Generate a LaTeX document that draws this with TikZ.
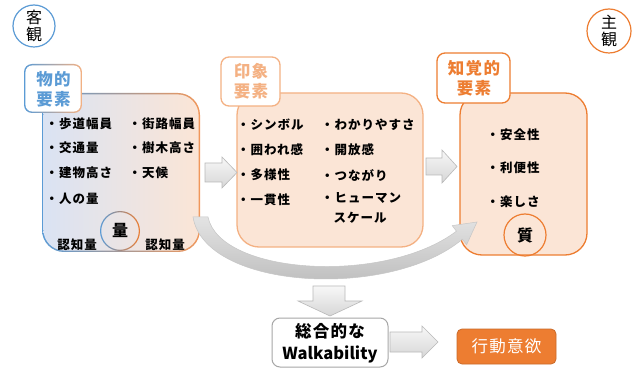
\documentclass[tikz,border=0pt]{standalone}
\usepackage{fontspec}
\setmainfont{Noto Sans CJK JP}
\newfontfamily\spjp{Noto Sans CJK JP}[LetterSpace=8]
\definecolor{cblue}{HTML}{5B9BD5}
\definecolor{corange}{HTML}{ED7D31}
\definecolor{cdorange}{HTML}{C96A2A}
\definecolor{clorange}{HTML}{F4B183}
\definecolor{cpeach}{HTML}{FBE5D6}
\definecolor{clblue}{HTML}{DAE3F3}
\definecolor{cgrayb}{HTML}{A6A6A6}
\tikzset{
  itm/.style={anchor=west, inner sep=0pt, font=\spjp\bfseries\fontsize{12.5}{20}\selectfont, align=left},
  lab/.style={inner sep=0pt, align=center, font=\spjp\bfseries\fontsize{16.5}{20}\selectfont},
  labbox/.style={rounded corners=8pt, fill=white, line width=1.3pt},
  bigbox/.style={rounded corners=22pt, fill=cpeach, line width=1.3pt},
  tag/.style={circle, inner sep=0pt, align=center, line width=1.2pt, font=\fontsize{16}{17}\selectfont},
  blockarrow/.style={top color=gray!6, bottom color=gray!32, draw=gray!55, line width=0.6pt},
}
\begin{document}
\begin{tikzpicture}[x=1pt,y=-1pt]
\useasboundingbox (0,0) rectangle (637,371);
\fill[white] (0,0) rectangle (637,371);

% corner tags
\node[tag, draw=cblue, minimum size=42pt] (obj) at (34,26) {客\\観};
\node[tag, draw=corange, minimum size=44pt] (subj) at (609,31) {主\\観};

% box 1 (gradient)
\shade[left color=cblue, right color=corange!80, rounded corners=22pt] (42,93) rectangle (200,252);
\shade[left color=clblue, right color=cpeach, rounded corners=21pt] (43.4,94.4) rectangle (198.6,250.6);
\coordinate (box1) at (121,172);
% label 1
\shade[left color=cblue, right color=clorange, rounded corners=8pt] (24,64) rectangle (82,113);
\fill[white, rounded corners=7pt] (25.4,65.4) rectangle (80.6,111.6);
\node[lab, text=cblue] (lab1) at (53.5,89) {物的\\要素};

% box 2
\node[bigbox, draw=clorange, minimum width=186pt, minimum height=154pt] (box2) at (330,170) {};
\node[labbox, draw=clorange, minimum width=59pt, minimum height=49pt] (lab2box) at (250.5,81.5) {};
\node[lab, text=clorange] (lab2) at (251,81.5) {印象\\要素};

% box 3
\node[bigbox, draw=corange, minimum width=127pt, minimum height=162pt] (box3) at (523.5,174) {};
\node[labbox, draw=corange, minimum width=73pt, minimum height=50pt] (lab3box) at (473.5,78) {};
\node[lab, text=corange] (lab3) at (474,78) {知覚的\\要素};

% items box 1
\node[itm] (a1) at (45.5,124) {・歩道幅員};
\node[itm] (a2) at (45.5,148) {・交通量};
\node[itm] (a3) at (45.5,173) {・建物高さ};
\node[itm] (a4) at (45.5,199) {・人の量};
\node[itm] (b1) at (128.5,124) {・街路幅員};
\node[itm] (b2) at (128.5,148) {・樹木高さ};
\node[itm] (b3) at (128.5,173) {・天候};
\shade[even odd rule, left color=cblue, right color=corange] (120,231) circle (20) (120,231) circle (18.8);
\node[inner sep=0pt, font=\bfseries\fontsize{16}{17}\selectfont] (ryo) at (120,230) {量};
\node[inner sep=0pt, font=\spjp\bfseries\fontsize{12.5}{15}\selectfont] (n1) at (77,245) {認知量};
\node[inner sep=0pt, font=\spjp\bfseries\fontsize{12.5}{15}\selectfont] (n2) at (165,245) {認知量};

% items box 2
\node[itm] (c1) at (237,125) {・シンボル};
\node[itm] (c2) at (237,150) {・囲われ感};
\node[itm] (c3) at (237,175) {・多様性};
\node[itm] (c4) at (237,200) {・一貫性};
\node[itm] (d1) at (321,125) {・わかりやすさ};
\node[itm] (d2) at (321,150) {・開放感};
\node[itm] (d3) at (321,175) {・つながり};
\node[itm, anchor=north west] (d4) at (321,192) {・ヒューマン\\\hphantom{・}スケール};

% items box 3
\node[itm] (e1) at (486.5,135) {・安全性};
\node[itm] (e2) at (486.5,168) {・利便性};
\node[itm] (e3) at (486.5,202) {・楽しさ};
\node[circle, draw=corange, line width=1.2pt, minimum size=42pt, inner sep=0pt, font=\bfseries\fontsize{16}{17}\selectfont] (shitsu) at (525,235) {質};

% block arrows
\draw[blockarrow] (205,163) -- (222,163) -- (222,157) -- (237,172.5) -- (222,188) -- (222,182) -- (205,182) -- cycle;
\draw[blockarrow] (426,158) -- (442,158) -- (442,150) -- (457,166.5) -- (442,183) -- (442,175) -- (426,175) -- cycle;

% curved arrow
\shade[top color=gray!22, bottom color=gray!58, draw=gray!45, line width=0.5pt]
  (193,217) .. controls (205,290) and (390,300) .. (462.4,239.2)
  -- (466.6,244.8) -- (477,222) -- (452.2,225.6) -- (456.4,231.2)
  .. controls (385,285) and (220,275) .. (208,217) -- cycle;

% down arrow
\draw[blockarrow] (313,286) -- (345,286) -- (345,301) -- (362,301) -- (330,316) -- (298,301) -- (313,301) -- cycle;

% walkability
\node[draw=cgrayb, fill=white, rounded corners=8pt, line width=1pt, minimum width=116pt, minimum height=49pt] (walkbox) at (330,342.5) {};
\node[inner sep=0pt, align=center, font=\bfseries\fontsize{16.5}{22}\selectfont] (walk) at (330,343) {{\spjp 総合的な}\\Walkability};

% right arrow
\draw[blockarrow] (390,332) -- (422,332) -- (422,326) -- (438,342) -- (422,358) -- (422,352) -- (390,352) -- cycle;

% action
\node[fill=corange, draw=cdorange, line width=0.8pt, rounded corners=5pt, minimum width=99pt, minimum height=35pt, text=white, font=\spjp\fontsize{16.5}{18}\selectfont] (act) at (506.5,346.5) {行動意欲};

\end{tikzpicture}
\end{document}
